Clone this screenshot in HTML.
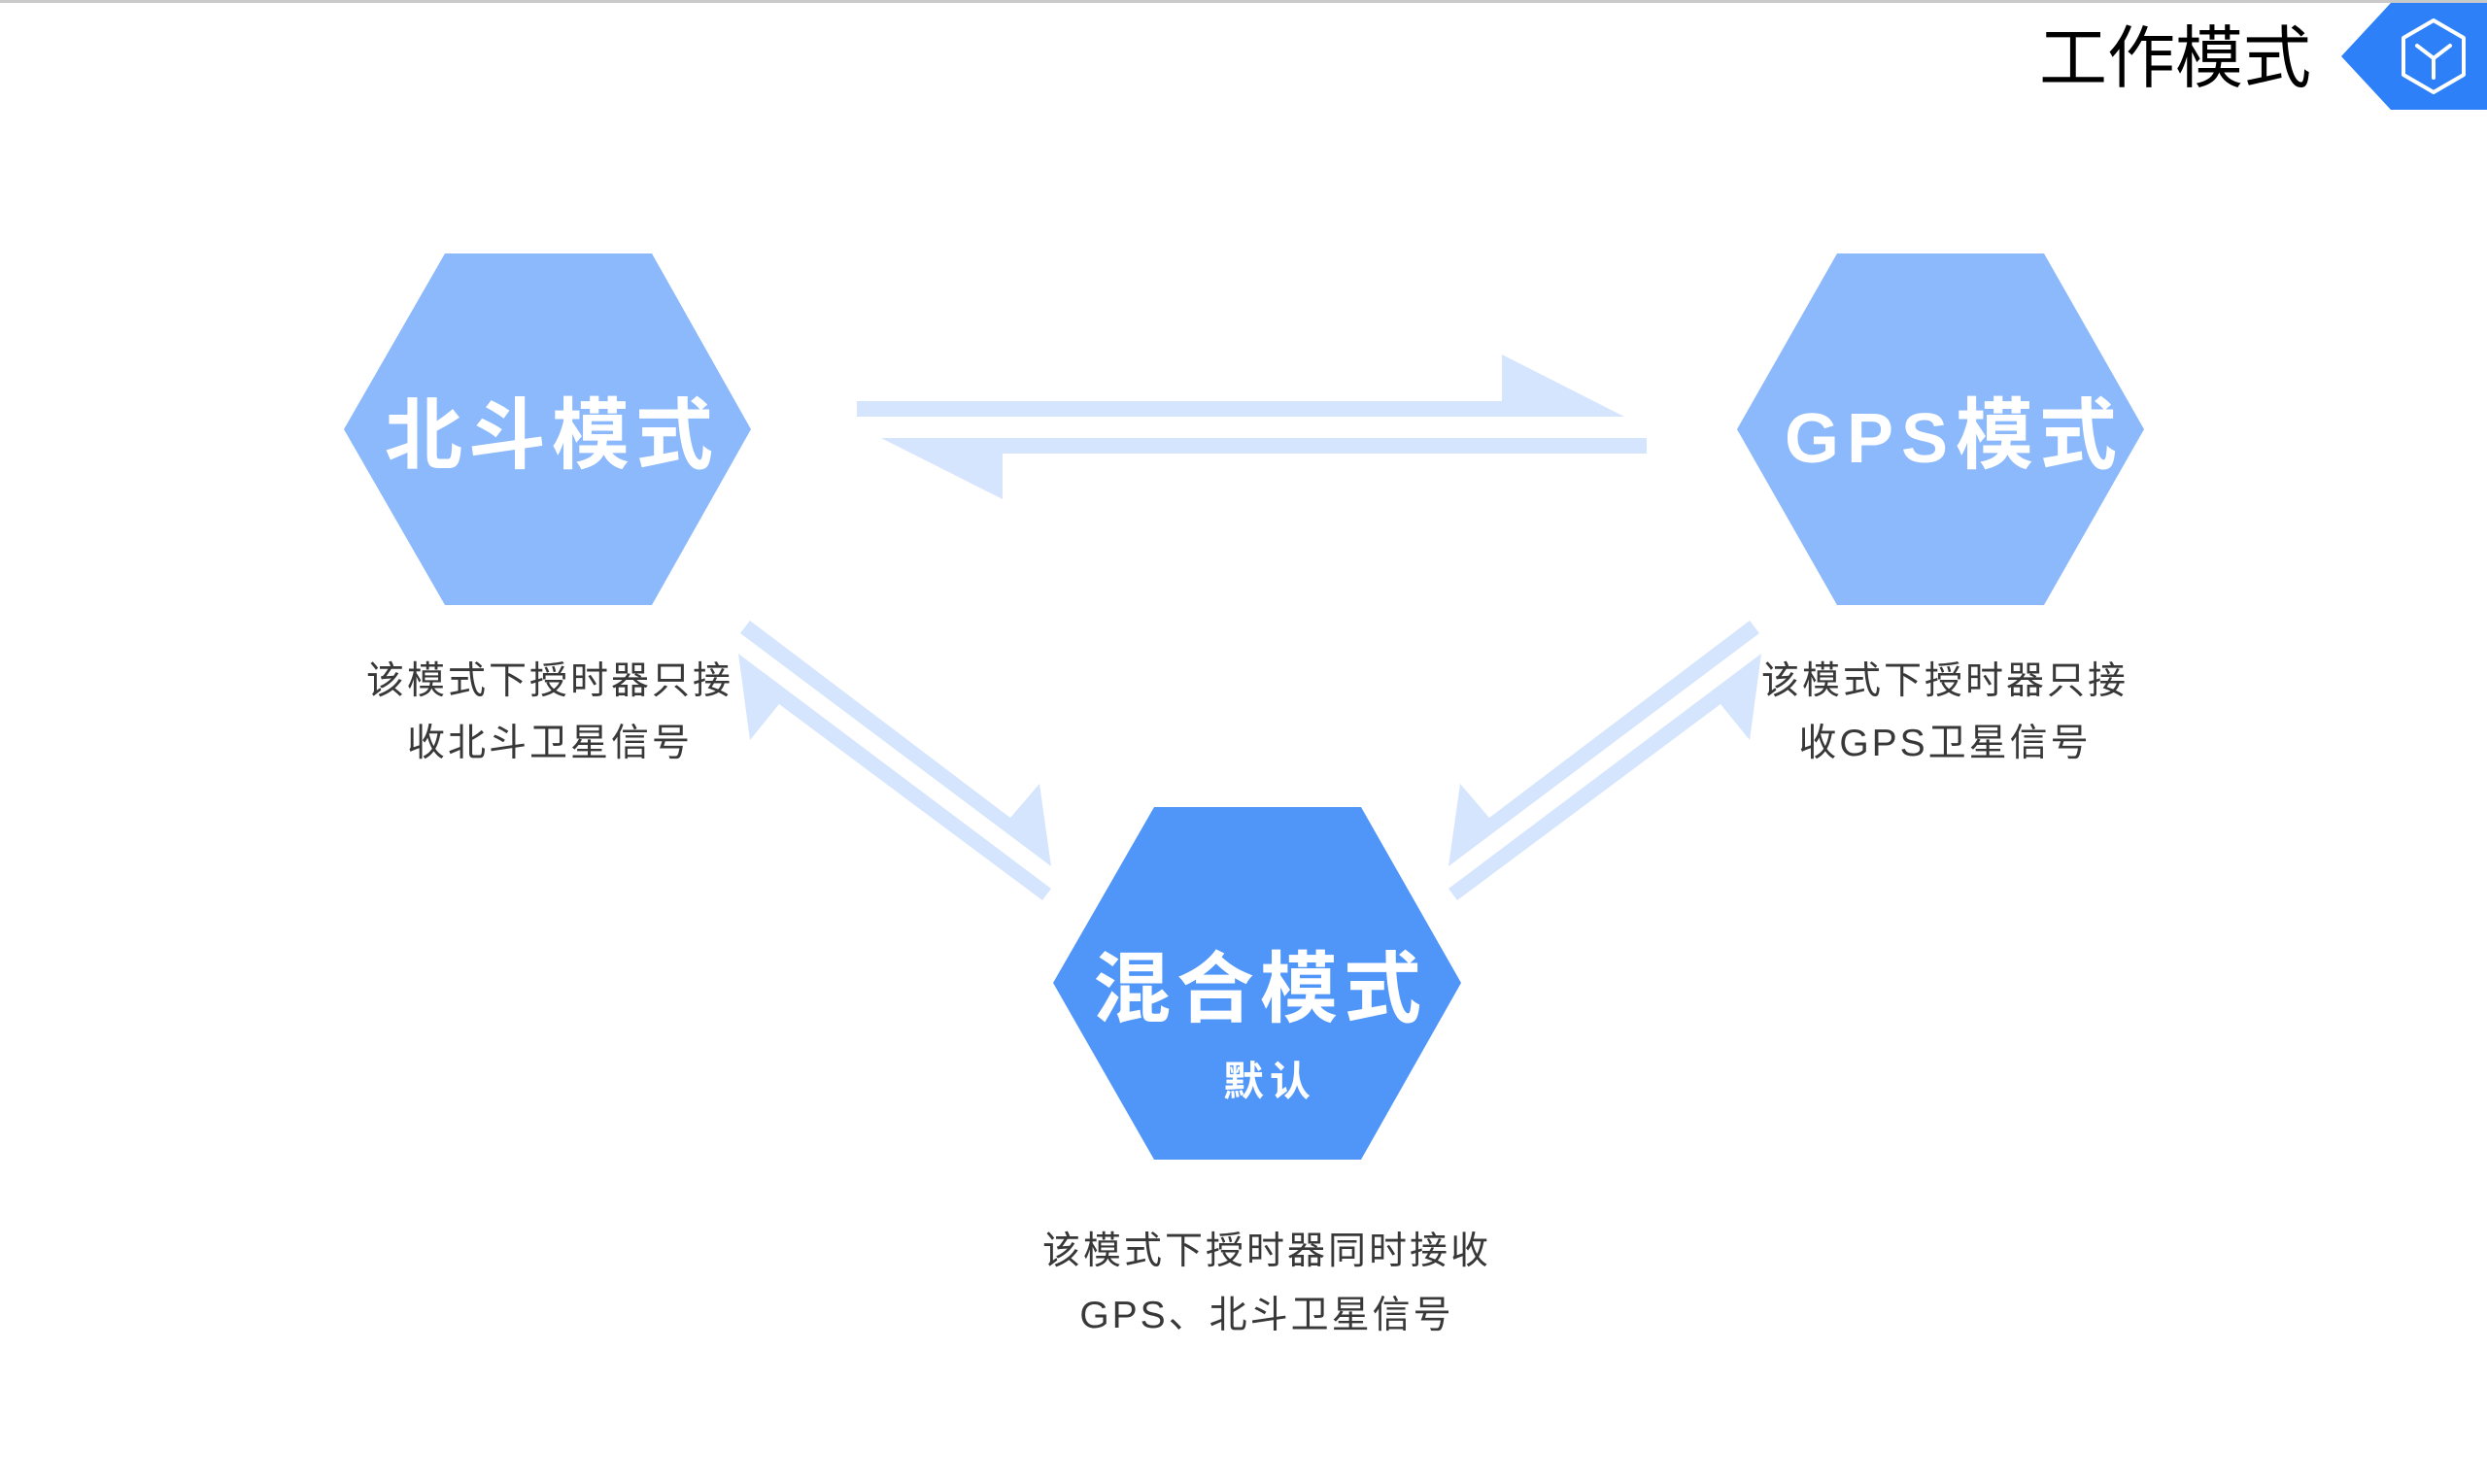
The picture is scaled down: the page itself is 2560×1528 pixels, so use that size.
<!DOCTYPE html>
<html>
<head>
<meta charset="utf-8">
<style>
html,body{margin:0;padding:0;background:#fff;}
body{width:2560px;height:1528px;overflow:hidden;position:relative;}
svg{position:absolute;left:0;top:0;}
</style>
</head>
<body>
<svg width="2560" height="1528" viewBox="0 0 2560 1528" xmlns="http://www.w3.org/2000/svg">
  <rect x="0" y="0" width="2560" height="1528" fill="#ffffff"/>
  <!-- top gray line -->
  <rect x="0" y="0" width="2560" height="3" fill="#c9c9c9"/>

  <!-- title -->
  <text x="2239" y="84" text-anchor="middle" font-family="Liberation Sans, Noto Sans CJK SC, sans-serif" font-size="70" fill="#000">工作模式</text>

  <!-- badge -->
  <polygon points="2410,58 2461,3 2560,3 2560,113 2461,113" fill="#2e80f8"/>
  <polygon points="2505,21 2536,39 2536,77 2505,95 2474,77 2474,39" fill="none" stroke="#fff" stroke-width="4" stroke-linejoin="round"/>
  <polyline points="2488,47 2505,60 2522,47" fill="none" stroke="#fff" stroke-width="4" stroke-linecap="round" stroke-linejoin="round"/>
  <line x1="2505" y1="60" x2="2505" y2="80" stroke="#fff" stroke-width="4" stroke-linecap="round"/>

  <!-- horizontal arrows -->
  <polygon points="882,413 1546,413 1546,365 1672,429 882,429" fill="#d5e5fd"/>
  <polygon points="907,451 1695,451 1695,467 1032,467 1032,514" fill="#d5e5fd"/>

  <!-- left diagonal arrows -->
  <polygon points="772,639 1040,842 1070,807 1082,892 762,652" fill="#d5e5fd"/>
  <polygon points="760,673 1082,915 1073,927 802,725 772,762" fill="#d5e5fd"/>

  <!-- right diagonal arrows -->
  <polygon points="1801,639 1533,842 1503,807 1491,892 1811,652" fill="#d5e5fd"/>
  <polygon points="1813,673 1491,915 1500,927 1771,725 1801,762" fill="#d5e5fd"/>

  <!-- hexagons -->
  <polygon points="354,442 458,261 671,261 773,442 671,623 458,623" fill="#8cb9fb"/>
  <polygon points="1788,442 1891,261 2104,261 2207,442 2104,623 1891,623" fill="#8cb9fb"/>
  <polygon points="1084,1012 1188,831 1401,831 1504,1012 1401,1194 1188,1194" fill="#5096f9"/>

  <!-- hex labels -->
  <text x="568" y="476" text-anchor="middle" font-family="Liberation Sans, Noto Sans CJK SC, sans-serif" font-size="80" font-weight="bold" fill="#fff" style="letter-spacing:6px">北斗模式</text>
  <text x="2011" y="476" text-anchor="middle" font-family="Liberation Sans, Noto Sans CJK SC, sans-serif" font-weight="bold" fill="#fff" style="letter-spacing:6px"><tspan font-size="72" style="letter-spacing:8px">GPS</tspan><tspan font-size="80">模式</tspan></text>
  <text x="1297" y="1046" text-anchor="middle" font-family="Liberation Sans, Noto Sans CJK SC, sans-serif" font-size="80" font-weight="bold" fill="#fff" style="letter-spacing:6px">混合模式</text>
  <text x="1307" y="1128" text-anchor="middle" font-family="Liberation Sans, Noto Sans CJK SC, sans-serif" font-size="42" font-weight="bold" fill="#fff" style="letter-spacing:6px">默认</text>

  <!-- descriptions -->
  <g font-family="Liberation Sans, Noto Sans CJK SC, sans-serif" font-size="39" fill="#383838" text-anchor="middle" style="letter-spacing:3px">
    <text x="566" y="714">该模式下授时器只接</text>
    <text x="566" y="778">收北斗卫星信号</text>
    <text x="2002" y="714">该模式下授时器只接</text>
    <text x="2002" y="778">收GPS卫星信号</text>
    <text x="1304" y="1301">该模式下授时器同时接收</text>
    <text x="1304" y="1367">GPS、北斗卫星信号</text>
  </g>
</svg>
</body>
</html>
